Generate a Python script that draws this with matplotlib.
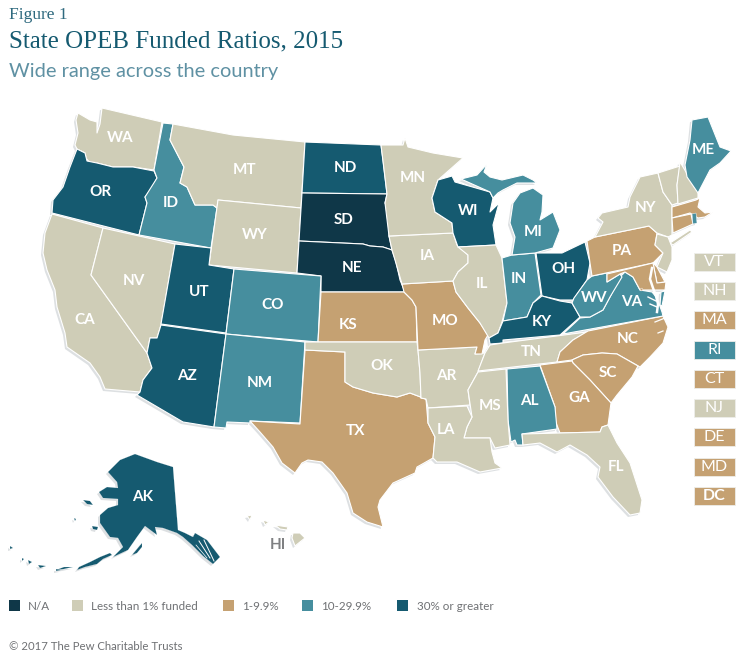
import matplotlib
matplotlib.use("Agg")
import matplotlib.pyplot as plt
from matplotlib.patches import Polygon, Rectangle

W, H = 750, 658
CATEGORIES = ["N/A", "Less than 1% funded", "1-9.9%", "10-29.9%", "30% or greater"]
COLORS = ["#0f3748", "#cfcdb7", "#c5a172", "#468e9e", "#155a70"]
LEGEND_SWATCH_X = [9, 72, 223, 302, 397]
LEGEND_TEXT_X = [28, 91, 242, 321, 417]

# category index of each state
NA = ["SD", "NE"]
LOW = ["WA", "MT", "WY", "NV", "CA", "MN", "IA", "IL", "OK", "AR", "LA", "MS", "TN", "FL", "NY", "VT", "NH", "NJ", "HI"]
MID = ["TX", "KS", "MO", "PA", "NC", "SC", "GA", "MA", "CT", "DE", "MD", "DC"]
HIGH = ["ID", "CO", "NM", "AL", "IN", "MI", "WV", "VA", "ME", "RI"]
TOP = ["OR", "ND", "UT", "AZ", "WI", "OH", "KY", "AK"]
GROUPS = [NA, LOW, MID, HIGH, TOP]

# side boxes for the small north-eastern states
BOX_STATES = ["VT", "NH", "MA", "RI", "CT", "NJ", "DE", "MD", "DC"]
BOX_Y = [262, 291, 320, 350, 379, 408, 437, 467, 496]

# state outlines
OUTLINES = {
 "WA": [[(102,108),(162,122),(154,170),(133,167),(113,167),(97,163),(90,163),(86,158),(85,153),(77,149),(75,145),(78,133),(76,120),(78,113),(90,120),(97,122),(97,133),(100,124)]],
 "OR": [[(77,149),(85,153),(87,161),(97,163),(113,167),(133,167),(154,171),(157,178),(152,188),(145,197),(147,203),(139,235),(52,213),(53,200),(63,187),(70,167)]],
 "CA": [[(52,214),(103,228),(91,275),(147,353),(152,368),(143,380),(140,392),(105,389),(100,377),(90,363),(67,347),(65,333),(57,307),(55,290),(47,270),(43,253),(45,233)]],
 "NV": [[(103,228),(175,244),(161,325),(157,338),(150,338),(147,353),(91,275)]],
 "ID": [[(163,123),(173,124),(170,140),(184,167),(180,183),(187,187),(195,205),(213,205),(217,208),(211,248),(139,235),(147,203),(145,197),(157,178),(154,170)]],
 "MT": [[(173,124),(233,135),(305,142),(301,208),(218,200),(217,208),(213,205),(195,205),(187,187),(180,183),(184,167),(170,140)]],
 "WY": [[(218,200),(301,208),(297,273),(209,265)]],
 "ND": [[(305,142),(381,145),(383,160),(387,194),(302,193)]],
 "SD": [[(302,193),(387,194),(385,203),(390,215),(389,236),(392,250),(383,247),(370,246),(363,244),(299,241)]],
 "NE": [[(299,241),(363,244),(370,246),(383,247),(392,250),(396,262),(400,280),(405,292),(321,292),(321,276),(297,273)]],
 "UT": [[(175,244),(211,248),(209,265),(234,269),(226,333),(161,324)]],
 "CO": [[(234,269),(321,276),(318,342),(226,334)]],
 "KS": [[(321,292),(404,292),(412,300),(416,307),(417,342),(318,342)]],
 "AZ": [[(161,325),(226,334),(214,427),(183,422),(137,395),(140,392),(143,380),(152,368),(147,353),(150,338),(157,338)]],
 "NM": [[(226,334),(305,342),(300,423),(250,421),(250,423),(227,422),(226,428),(214,427)]],
 "TX": [[(305,350),(345,352),(345,382),(353,387),(373,393),(397,397),(410,393),(426,399),(428,423),(435,437),(433,458),(417,467),(415,473),(393,483),(380,500),(378,507),(383,527),(367,522),(353,513),(347,493),(333,473),(322,462),(308,460),(302,463),(295,473),(282,463),(273,447),(260,432),(250,421),(300,424)]],
 "OK": [[(305,342),(417,342),(418,350),(420,373),(421,398),(426,399),(410,393),(397,397),(373,393),(353,387),(345,382),(345,352),(305,350)]],
 "AR": [[(418,350),(477,347),(475,354),(485,353),(478,372),(468,390),(470,405),(428,408),(426,399),(421,398),(420,373)]],
 "MO": [[(402,284),(453,281),(456,292),(468,308),(480,323),(488,335),(485,340),(482,354),(475,354),(477,347),(418,350),(416,307),(412,300),(404,292)]],
 "IA": [[(389,236),(453,233),(457,245),(468,255),(468,263),(458,272),(453,281),(402,284),(395,260),(392,250)]],
 "MN": [[(381,145),(403,145),(405,138),(408,147),(433,153),(463,158),(438,180),(432,198),(435,212),(452,223),(453,233),(389,236),(385,203),(387,194)]],
 "WI": [[(438,180),(452,176),(455,182),(490,192),(493,198),(490,212),(499,203),(493,225),(496,245),(458,247),(453,233),(452,223),(435,212),(432,198)]],
 "IL": [[(458,247),(496,245),(502,258),(507,303),(502,322),(498,333),(489,338),(480,323),(468,308),(456,292),(453,281),(458,272),(468,263),(468,255)]],
 "IN": [[(502,258),(512,255),(535,253),(541,295),(533,303),(527,317),(503,321),(507,303)]],
 "OH": [[(536,253),(562,253),(585,242),(590,263),(587,280),(573,300),(560,300),(542,296)]],
 "KY": [[(489,338),(490,344),(503,343),(503,340),(560,335),(580,317),(572,303),(560,301),(542,296),(533,303),(527,317),(503,321),(498,333)]],
 "TN": [[(490,345),(503,343),(587,332),(573,340),(560,352),(557,362),(478,371),(485,353)]],
 "NC": [[(588,331),(663,316),(668,327),(663,343),(650,357),(640,367),(617,354),(602,353),(583,355),(572,360),(557,362),(560,352),(573,340)]],
 "SC": [[(572,360),(583,355),(602,353),(617,354),(638,366),(632,377),(617,395),(611,403),(590,380),(573,363)]],
 "GA": [[(540,365),(572,361),(573,363),(590,380),(611,403),(608,425),(602,427),(600,432),(560,433),(555,420),(555,407)]],
 "AL": [[(507,369),(540,366),(555,407),(557,429),(522,434),(523,445),(517,445),(515,440),(511,442),(508,420)]],
 "MS": [[(478,372),(506,369),(508,420),(510,445),(495,448),(490,438),(464,438),(467,427),(472,417),(468,390)]],
 "LA": [[(428,408),(467,406),(472,417),(467,427),(464,438),(490,438),(492,452),(495,463),(502,468),(480,472),(457,462),(437,462),(433,458),(435,437),(428,423)]],
 "FL": [[(522,434),(560,433),(600,432),(602,427),(608,425),(617,443),(630,463),(642,500),(640,513),(630,515),(613,497),(598,477),(600,467),(587,455),(570,445),(557,452),(540,443),(523,445)]],
 "MI": [[(461,179),(477,175),(487,164),(484,172),(490,177),(502,180),(523,175),(533,180),(537,183),(517,183),(503,190),(498,193),(493,198),(490,192)],
        [(520,193),(533,188),(543,195),(542,212),(540,220),(553,212),(560,230),(553,248),(535,253),(512,255),(515,237),(510,223),(513,203)]],
 "VA": [[(663,316),(563,334),(580,318),(590,317),(603,310),(610,297),(620,277),(625,272),(633,277),(640,290),(652,292),(657,298),(662,312)],
        [(661,292),(665,291),(662,306),(660,305)]],
 "WV": [[(572,303),(574,298),(587,280),(592,276),(607,273),(607,282),(620,274),(622,277),(610,297),(603,310),(590,317),(580,317)]],
 "PA": [[(587,241),(595,237),(649,226),(657,233),(655,245),(663,253),(653,263),(592,276),(590,263)]],
 "NY": [[(658,173),(663,192),(672,205),(672,223),(672,235),(668,237),(657,233),(649,226),(595,237),(603,222),(598,218),(602,213),(628,207),(630,197),(640,177)],
        [(670,243),(690,230),(692,232),(673,245)]],
 "VT": [[(658,173),(680,166),(677,185),(678,203),(672,205),(663,192)]],
 "NH": [[(680,162),(698,192),(698,198),(678,204),(677,185)]],
 "ME": [[(685,165),(690,140),(692,120),(708,117),(720,147),(731,151),(720,163),(710,170),(698,193),(687,177)]],
 "MA": [[(672,207),(696,200),(700,198),(698,207),(705,213),(713,212),(705,217),(698,218),(690,213),(672,218)]],
 "CT": [[(672,218),(691,214),(693,224),(673,233)]],
 "RI": [[(692,214),(696,213),(697,223),(693,224)]],
 "NJ": [[(668,237),(672,247),(672,260),(667,272),(657,267),(663,253),(655,245),(657,234)]],
 "DE": [[(653,263),(657,267),(665,282),(657,283)]],
 "MD": [[(607,274),(653,263),(657,283),(666,282),(665,290),(653,290),(640,290),(633,277),(625,272),(620,274),(607,282)]],
 "DC": [[(640,289),(642,288),(643,290),(641,291)]],
 "AK": [[(135,454),(157,462),(173,467),(178,530),(185,533),(193,537),(195,533),(207,540),(220,557),(213,564),(203,556),(192,545),(183,537),(177,533),(163,528),(155,527),(157,535),(145,526),(137,537),(128,550),(113,557),(123,547),(118,538),(110,537),(100,523),(100,515),(108,508),(118,505),(118,499),(103,498),(99,492),(107,487),(118,488),(117,482),(108,472),(120,460)],
        [(132,555),(142,543),(142,547),(137,553)],
        [(92,526),(98,527),(97,530),(93,529)],
        [(83,500),(90,501),(93,505),(87,504)],
        [(112,555),(103,559),(97,564),(85,567),(77,570),(79,567),(90,562),(100,557),(110,553)],
        [(73,567),(64,569),(56,570),(64,567)],
        [(46,566),(40,568),(38,565)],
        [(32,562),(29,564),(28,560)],
        [(13,548),(10,549),(10,546)],
        [(76,519),(75,521),(74,518)],
        [(24,559),(22,561),(22,558)],
        [(61,570),(56,571),(56,569)]],
 "HI": [[(293,533),(300,533),(305,538),(295,546),(292,538)],
        [(275,525),(288,527),(287,530),(280,529)],
        [(263,520),(269,522),(265,525)],
        [(247,516),(252,515),(250,520)]],
}

LABELS = {
 "WA":(120,138),"MT":(245,170),"ND":(345,168),"SD":(344,220),"NE":(352,268),"OR":(100,192),"ID":(171,203),
 "WY":(255,235),"NV":(134,281),"CA":(85,320),"UT":(199,292),"CO":(273,305),"AZ":(187,376),"NM":(260,383),
 "KS":(348,325),"OK":(382,366),"TX":(355,431),"MN":(413,178),"IA":(427,256),"MO":(445,321),"AR":(446,376),
 "LA":(446,430),"IL":(482,284),"WI":(468,211),"MI":(533,232),"IN":(519,279),"OH":(563,269),"KY":(542,322),
 "TN":(531,352),"MS":(490,406),"AL":(529,401),"GA":(579,398),"SC":(608,373),"NC":(628,339),"FL":(616,467),
 "VA":(632,302),"WV":(594,298),"PA":(622,251),"NY":(645,208),"ME":(703,150),"AK":(143,497),
}

# thin white inlets cut into the coast: (xs, ys, width)
INLETS = [
 ([652,650,653,656,658,657], [268,279,288,296,304,312], 1.8),
 ([648,656], [297,301], 1.0),
 ([650,657], [304,307], 1.0),
 ([655,665], [322,318], 0.9),
 ([658,663], [333,331], 0.9),
 ([199,210], [541,558], 0.7),
 ([204,214], [540,561], 0.7),
 ([196,207], [545,558], 0.5),
]

color_of = {s: COLORS[i] for i, g in enumerate(GROUPS) for s in g}

fig = plt.figure(figsize=(W/100, H/100), dpi=100)
ax = fig.add_axes([0, 0, 1, 1])
ax.set_xlim(0, W)
ax.set_ylim(H, 0)
ax.axis("off")
SANS = "Lato"
SLAB = "Liberation Serif"

# soft coastal shadow
for st, parts in OUTLINES.items():
    for p in parts:
        ax.add_patch(Polygon([(x-2, y+2) for x, y in p], closed=True, fc="#dde0e2", ec="none", zorder=1))
# states
for st, parts in OUTLINES.items():
    lw = 0.3 if st in ("DC", "RI") else (0.1 if st == "AK" else 0.8)
    for p in parts:
        ax.add_patch(Polygon(p, closed=True, fc=color_of[st], ec="white", lw=lw, joinstyle="round", zorder=2))
for xs, ys, w in INLETS:
    ax.plot(xs, ys, color="white", lw=w, zorder=3)

for st, (x, y) in LABELS.items():
    ax.text(x, y, st, color="white", fontsize=11, fontweight="bold", family=SANS, ha="center", va="center", zorder=5)
ax.text(278, 545, "HI", color="#7f8082", fontsize=11, fontweight="bold", family=SANS, ha="center", va="center", zorder=5)

# side boxes
for st, y in zip(BOX_STATES, BOX_Y):
    ax.add_patch(Rectangle((694, y-9), 41, 18, fc=color_of[st], ec="#eeeeea", lw=0.6, zorder=2))
    ax.text(714.5, y, st, color="white", fontsize=11.5, fontweight="bold" if st == "DC" else "normal",
            family=SANS, ha="center", va="center", zorder=5)

# legend
for c, sx, tx, lab in zip(COLORS, LEGEND_SWATCH_X, LEGEND_TEXT_X, CATEGORIES):
    ax.add_patch(Rectangle((sx, 600), 11, 11, fc=c, ec="none", zorder=2))
    ax.text(tx, 606, lab, color="#6f7174", fontsize=8.4, family=SANS, ha="left", va="center")

# titles
ax.text(9, 15, "Figure 1", color="#2f6a7f", fontsize=12.5, family=SLAB, ha="left", va="center")
ax.text(9, 41, "State OPEB Funded Ratios, 2015", color="#155a70", fontsize=18, family=SLAB, ha="left", va="center")
ax.text(9, 71, "Wide range across the country", color="#5f91a3", fontsize=14.4, family=SANS, ha="left", va="center")
ax.text(9, 646, "\u00a9 2017 The Pew Charitable Trusts", color="#6f7174", fontsize=8.2, family=SANS, ha="left", va="center")

fig.savefig("out.png", dpi=100)
